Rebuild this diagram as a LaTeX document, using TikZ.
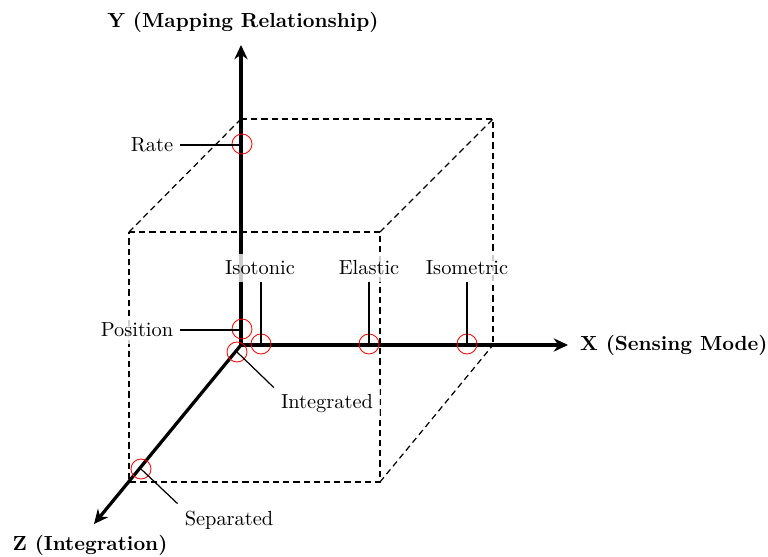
\documentclass[tikz,border=0pt]{standalone}
\usetikzlibrary{arrows.meta}
\begin{document}
\begin{tikzpicture}[x=0.4902pt,y=-0.4902pt,
  axis/.style={line width=1.6pt,-{Stealth[length=7pt,width=6.5pt]}},
  edge/.style={densely dashed,semithick},
  leader/.style={semithick},
  spot/.style={circle,draw=red,thin,minimum size=9.8pt,inner sep=0pt},
  lbl/.style={fill=white,fill opacity=0.8,text opacity=1},
  axlbl/.style={font=\bfseries}]
\useasboundingbox (0,0) rectangle (768,557);

% origin and axis ends
\coordinate (O)  at (241,345);
\coordinate (Xe) at (568,345);
\coordinate (Ye) at (241,45);
\coordinate (Ze) at (94,524);

% box corners: back face and front face
\coordinate (B1) at (241,119);
\coordinate (B2) at (493,119);
\coordinate (B3) at (493,345);
\coordinate (F1) at (129,232);
\coordinate (F2) at (380,232);
\coordinate (F3) at (380,482);
\coordinate (F4) at (129,482);

% dashed box
\draw[edge] (F1) -- (F2) -- (F3) -- (F4) -- cycle;
\draw[edge] (B1) -- (B2) -- (B3);
\draw[edge] (F1) -- (B1);
\draw[edge] (F2) -- (B2);
\draw[edge] (F3) -- (B3);

% axes
\draw[axis] (O) -- (Xe);
\draw[axis] (O) -- (Ye);
\draw[axis] (O) -- (Ze);

% axis titles
\node[axlbl] (ylab) at (243,22) {Y (Mapping Relationship)};
\node[axlbl,anchor=west] (xlab) at (573,345) {X (Sensing Mode)};
\node[axlbl] (zlab) at (90,545) {Z (Integration)};

% marked positions
\node[spot] (cRate) at (242,144) {};
\node[spot] (cPos)  at (242,329) {};
\node[spot] (cInt)  at (237,352) {};
\node[spot] (cIsot) at (261,344) {};
\node[spot] (cEla)  at (369,344) {};
\node[spot] (cIsom) at (467,344) {};
\node[spot] (cSep)  at (141,469) {};

% labels
\node[lbl] (rate) at (152,145) {Rate};
\node[lbl] (pos)  at (137,330) {Position};
\node[lbl] (isot) at (260,268) {Isotonic};
\node[lbl] (ela)  at (369,268) {Elastic};
\node[lbl] (isom) at (467,268) {Isometric};
\node[lbl] (int)  at (327,404) {Integrated};
\node[lbl] (sep)  at (229,520) {Separated};

% leader lines
\draw[leader] (rate.east) -- (rate.east -| O);
\draw[leader] (pos.east) -- (pos.east -| O);
\draw[leader] (isot.south -| cIsot) -- (cIsot.center);
\draw[leader] (ela.south -| cEla) -- (cEla.center);
\draw[leader] (isom.south -| cIsom) -- (cIsom.center);
\draw[leader] (cInt.center) -- (int.north west);
\draw[leader] (cSep.center) -- (sep.north west);
\end{tikzpicture}
\end{document}
